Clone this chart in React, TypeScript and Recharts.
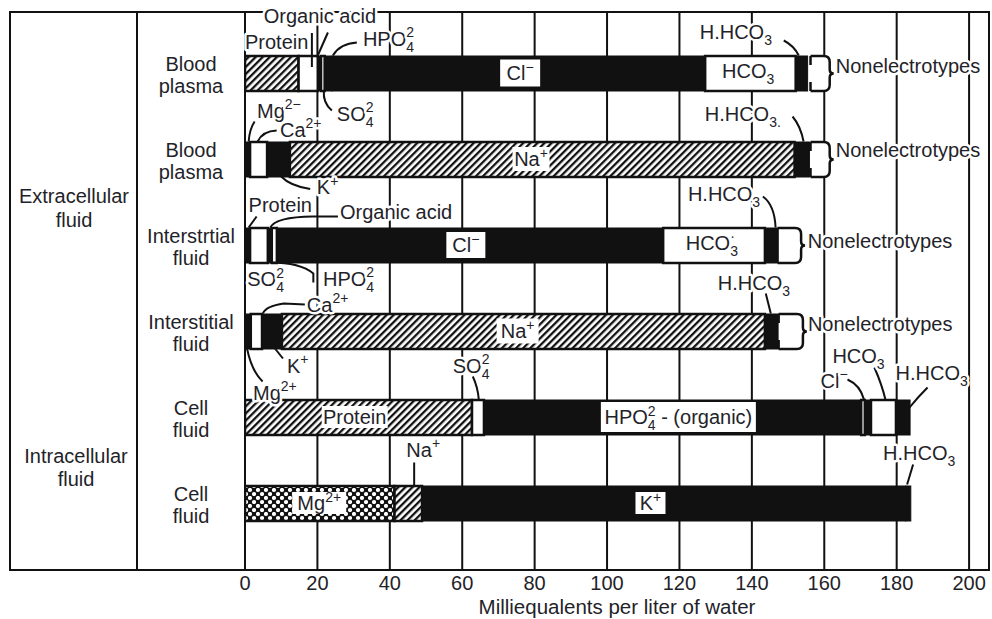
import React from "react";
import {
  BarChart,
  Bar,
  XAxis,
  YAxis,
  CartesianGrid,
  ReferenceDot,
  Customized,
  Label,
} from "recharts";

const FONT = "'Liberation Sans', Arial, Helvetica, sans-serif";
const INK = "#111111";
const TEXT = "#1f2329";
const FS = 20;

// ---------- categories / labels ----------
const rowKeys = [
  "plasmaAnions",
  "plasmaCations",
  "interAnions",
  "interCations",
  "cellAnions",
  "cellCations",
];
const rowLabels: string[][] = [
  ["Blood", "plasma"],
  ["Blood", "plasma"],
  ["Interstrtial", "fluid"],
  ["Interstitial", "fluid"],
  ["Cell", "fluid"],
  ["Cell", "fluid"],
];
const groupLabels: string[][] = [
  ["Extracellular", "fluid"],
  ["Intracellular", "fluid"],
];
const xTicks = [0, 20, 40, 60, 80, 100, 120, 140, 160, 180, 200];
const xTitle = "Milliequalents per liter of water";

// ---------- segment values (mEq per litre, left to right) ----------
const plasmaAnionIons = ["Protein", "Organic acid", "", "SO4", "HPO4", "Cl", "HCO3", "H.HCO3", "", "Nonelectrolytes"];
const plasmaAnionValues = [14.8, 5.3, 0.9, 1.0, 2.0, 103.1, 25.0, 3.3, 0.8, 5.3];

const plasmaCationIons = ["Mg", "Ca", "K", "Na", "H.HCO3", "", "Nonelectrolytes"];
const plasmaCationValues = [1.4, 4.7, 6.3, 139.4, 4.1, 0.3, 5.3];

const interAnionIons = ["Protein", "SO4", "", "Organic acid", "Cl", "HCO3", "H.HCO3", "Nonelectrolytes"];
const interAnionValues = [1.4, 4.9, 1.1, 1.4, 106.7, 28.1, 3.5, 6.5];

const interCationIons = ["Mg", "Ca", "K", "Na", "H.HCO3", "Nonelectrolytes"];
const interCationValues = [1.6, 3.1, 5.5, 133.4, 3.8, 6.7];

const cellAnionIons = ["Protein", "SO4", "HPO4", "Cl", "", "HCO3", "H.HCO3"];
const cellAnionValues = [62.7, 3.3, 104.2, 1.0, 1.7, 6.9, 3.9];

const cellCationIons = ["Mg", "Na", "K", "H.HCO3"];
const cellCationValues = [41.3, 7.6, 133.6, 1.4];

// ---------- segment styles (kept apart from the values) ----------
const plasmaAnionFills = ["hatch", "white", "black", "white", "black", "black", "white", "black", "none", "bracket"];
const plasmaCationFills = ["black", "white", "black", "hatch", "black", "none", "bracket"];
const interAnionFills = ["black", "white", "black", "white", "black", "white", "black", "bracketSolid"];
const interCationFills = ["black", "white", "black", "hatch", "black", "bracket"];
const cellAnionFills = ["hatch", "white", "black", "white", "black", "white", "black"];
const cellCationFills = ["check", "hatch", "black", "black"];

const rowIons = [plasmaAnionIons, plasmaCationIons, interAnionIons, interCationIons, cellAnionIons, cellCationIons];
const rowValues = [plasmaAnionValues, plasmaCationValues, interAnionValues, interCationValues, cellAnionValues, cellCationValues];
const rowFills = [plasmaAnionFills, plasmaCationFills, interAnionFills, interCationFills, cellAnionFills, cellCationFills];

const SEG_COUNT = Math.max(...rowValues.map((v) => v.length));
const segKeys = Array.from({ length: SEG_COUNT }, (_, j) => `s${j}`);
const chartData = rowKeys.map((key, i) => {
  const o: any = { key };
  segKeys.forEach((s, j) => {
    o[s] = rowValues[i][j] ?? 0;
    o[`ion${j}`] = rowIons[i][j] ?? "";
  });
  return o;
});

// ---------- annotations ----------
type Part = string | { sub?: string; sup?: string };
interface Note {
  row: number;
  at: number;
  parts: Part[];
  tx?: number;
  ty?: number;
  anchor?: "start" | "middle" | "end";
  path?: string[];
  box?: [number, number];
}

const notes: Note[] = [
  // blood plasma (anions)
  { row: 0, at: 0, parts: ["Protein"], tx: 0, ty: -24.5 },
  { row: 0, at: 18.2, parts: ["Organic acid"], tx: 9, ty: -50.5, anchor: "middle", path: ["M1 -40 L1 -6", "M17 -40.5 L6 -15.5"] },
  { row: 0, at: 24, parts: ["HPO", { sub: "4", sup: "2" }], tx: 31, ty: -27.5, path: ["M25 -30.5 Q8 -29.5 1 -17.5"] },
  { row: 0, at: 21.5, parts: ["SO", { sub: "4", sup: "2" }], tx: 14, ty: 47.5, path: ["M9 37.5 Q0 30 1 17.5"] },
  { row: 0, at: 76, parts: ["Cl", { sup: "−" }], box: [40, 27] },
  { row: 0, at: 139, parts: ["HCO", { sub: "3" }], tx: 0, ty: 4.5, anchor: "middle" },
  { row: 0, at: 154, parts: ["H.HCO", { sub: "3" }], tx: -102.8, ty: -34.5, path: ["M-18.8 -32.5 Q-8.8 -27.5 -3.8 -17.5"] },
  { row: 0, at: 161.5, parts: ["Nonelectrotypes"], tx: 6, ty: -0.5 },
  // blood plasma (cations)
  { row: 1, at: 1, parts: ["Mg", { sup: "2−" }], tx: 8.4, ty: -41.5, path: ["M6 -37.5 Q1 -30 0 -17.5"] },
  { row: 1, at: 3.5, parts: ["Ca", { sup: "2+" }], tx: 22.3, ty: -22.5, path: ["M19 -28.5 Q5 -28 0 -17.5"] },
  { row: 1, at: 10, parts: ["K", { sup: "+" }], tx: 35.6, ty: 35, path: ["M0 17.5 Q9 27 29 30"] },
  { row: 1, at: 79, parts: ["Na", { sup: "+" }], box: [37, 24] },
  { row: 1, at: 154, parts: ["H.HCO", { sub: "3." }], tx: -97.8, ty: -38, path: ["M-10 -42.5 Q-2 -33 1 -17.5"] },
  { row: 1, at: 161.5, parts: ["Nonelectrotypes"], tx: 6, ty: -2.5 },
  // interstitial (anions)
  { row: 2, at: 1, parts: ["Protein"], tx: 0, ty: -33.5, path: ["M8 -28.5 L0 -17.5"] },
  { row: 2, at: 7, parts: ["Organic acid"], tx: 69.6, ty: -26.5, path: ["M67.6 -28.5 L42.6 -28.5 Q5 -28 0 -17.5"] },
  { row: 2, at: 2, parts: ["SO", { sub: "4", sup: "2" }], tx: -5, ty: 41 },
  { row: 2, at: 7, parts: ["HPO", { sub: "4", sup: "2" }], tx: 52.6, ty: 40.5, path: ["M0 17.5 Q30 17.5 43 28.5 L43 37.5"] },
  { row: 2, at: 61, parts: ["Cl", { sup: "−" }], box: [39, 26] },
  { row: 2, at: 129.5, parts: ["HCO", { sub: "3", sup: "·" }], tx: -2, ty: 4.5, anchor: "middle" },
  { row: 2, at: 146, parts: ["H.HCO", { sub: "3" }], tx: -85.7, ty: -44.5, path: ["M-10.7 -48.5 Q1 -40 2 -17.5"] },
  { row: 2, at: 153.6, parts: ["Nonelectrotypes"], tx: 6.7, ty: 3 },
  // interstitial (cations)
  { row: 3, at: 3, parts: ["Ca", { sup: "2+" }], tx: 51, ty: -19.5, path: ["M49 -26.5 L28 -27.5 Q10 -25 7 -17.5"] },
  { row: 3, at: 8, parts: ["K", { sup: "+" }], tx: 13, ty: 41.5, path: ["M9 27.5 L1 17.5"] },
  { row: 3, at: 1, parts: ["Mg", { sup: "2+" }], tx: 4.4, ty: 68.5, path: ["M-1.6 17.5 Q3 40 14 50.5"] },
  { row: 3, at: 75.3, parts: ["Na", { sup: "+" }], box: [42, 25] },
  { row: 3, at: 145.5, parts: ["H.HCO", { sub: "3" }], tx: -54, ty: -41.5, path: ["M-6 -37.5 L-1 -17.5"] },
  { row: 3, at: 154.1, parts: ["Nonelectrotypes"], tx: 5, ty: 0 },
  // cell fluid (anions)
  { row: 4, at: 64.3, parts: ["SO", { sub: "4", sup: "2" }], tx: -25, ty: -44.5, path: ["M-5 -40.5 Q0 -30 1 -17.5"] },
  { row: 4, at: 30.3, parts: ["Protein"], box: [66, 22] },
  { row: 4, at: 119.7, parts: ["HPO", { sub: "4", sup: "2" }, " - (organic)"], box: [155, 30] },
  { row: 4, at: 170.7, parts: ["Cl", { sup: "−" }], tx: -42.5, ty: -29.5, path: ["M-15.5 -37.5 Q-3 -32 1 -17.5"] },
  { row: 4, at: 176.5, parts: ["HCO", { sub: "3" }], tx: -51.6, ty: -54, path: ["M-9.6 -49.5 Q-2 -32 1.4 -17.5"] },
  { row: 4, at: 183, parts: ["H.HCO", { sub: "3" }], tx: -12, ty: -37.5, path: ["M20 -29.5 Q10 -19.5 2 -9.5"] },
  // cell fluid (cations)
  { row: 5, at: 47, parts: ["Na", { sup: "+" }], tx: -8.8, ty: -46.5, path: ["M-1 -40.5 L-1 -17.5"] },
  { row: 5, at: 20.5, parts: ["Mg", { sup: "2+" }], box: [54, 22] },
  { row: 5, at: 112, parts: ["K", { sup: "+" }], box: [30, 22] },
  { row: 5, at: 181.5, parts: ["H.HCO", { sub: "3" }], tx: -19, ty: -43.5, path: ["M11 -38.5 L5 -18.5"] },
];

// ---------- rendering helpers ----------
function Chem({ x, y, parts, anchor = "start", size = FS, halo = false }: any) {
  const small = Math.round(size * 0.7);
  const kids: any[] = [];
  let shift = 0;
  (parts as Part[]).forEach((p, i) => {
    if (typeof p === "string") {
      kids.push(
        <tspan key={`t${i}`} dy={-shift} fontSize={size}>
          {p}
        </tspan>
      );
      shift = 0;
    } else {
      const subS = size * 0.32;
      const supS = -size * 0.42;
      if (p.sub !== undefined) {
        kids.push(
          <tspan key={`b${i}`} fontSize={small} dy={subS - shift}>
            {p.sub}
          </tspan>
        );
        shift = subS;
      }
      if (p.sup !== undefined) {
        const back = p.sub !== undefined ? -small * 0.556 * p.sub.length : 0;
        kids.push(
          <tspan key={`p${i}`} fontSize={small} dx={back} dy={supS - shift}>
            {p.sup}
          </tspan>
        );
        shift = supS;
      }
    }
  });
  const haloProps = halo
    ? { stroke: "#fff", strokeWidth: 5, paintOrder: "stroke", strokeLinejoin: "round" }
    : {};
  return (
    <text x={x} y={y} textAnchor={anchor} fontSize={size} fontFamily={FONT} fill={TEXT} {...(haloProps as any)}>
      {kids}
    </text>
  );
}

function NoteMark({ cx, cy, note }: { cx: number; cy: number; note: Note }) {
  if (cx == null || cy == null || isNaN(cx) || isNaN(cy)) return <g />;
  if (note.box) {
    const [w, h] = note.box;
    return (
      <g>
        <rect x={cx - w / 2} y={cy - h / 2} width={w} height={h} fill="#fff" />
        <Chem x={cx} y={cy + 7} parts={note.parts} anchor="middle" />
      </g>
    );
  }
  return (
    <g>
      {(note.path || []).map((d, k) => (
        <path key={k} d={d} transform={`translate(${cx} ${cy})`} stroke={INK} strokeWidth={2} fill="none" />
      ))}
      <Chem
        x={cx + (note.tx ?? 0)}
        y={cy + (note.ty ?? 0)}
        parts={note.parts}
        anchor={note.anchor ?? "start"}
        halo
      />
    </g>
  );
}

function Bracket({ x, y, w, h, dashed }: any) {
  const r = x + w;
  const m = y + h / 2;
  return (
    <g>
      <rect x={x} y={y} width={w} height={h} fill="#fff" />
      <path
        d={`M${x} ${y} V${y + h}`}
        stroke={INK}
        strokeWidth={2.5}
        strokeDasharray={dashed ? "9 17 9" : undefined}
        fill="none"
      />
      <path
        d={`M${x} ${y} H${r - 6} Q${r} ${y} ${r} ${y + 6} V${m - 4} Q${r} ${m} ${r + 4} ${m} Q${r} ${m} ${r} ${m + 4} V${y + h - 6} Q${r} ${y + h} ${r - 6} ${y + h} H${x}`}
        stroke={INK}
        strokeWidth={2.5}
        fill="none"
      />
    </g>
  );
}

function rowIndexOf(props: any): number {
  const k = props?.payload?.key;
  if (k !== undefined) return rowKeys.indexOf(k);
  return typeof props.index === "number" ? props.index : -1;
}

const makeSegmentShape = (j: number) => (props: any) => {
  const { x, y, width, height } = props;
  const r = rowIndexOf(props);
  const kind = rowFills[r]?.[j];
  if (!kind || kind === "none" || !(width > 0)) return <g />;
  if (kind === "bracket" || kind === "bracketSolid") {
    return <Bracket x={x} y={y} w={width} h={height} dashed={kind === "bracket"} />;
  }
  const fill =
    kind === "black" ? INK : kind === "white" ? "#fff" : kind === "hatch" ? "url(#hatch)" : "url(#check)";
  return (
    <rect
      x={x}
      y={y}
      width={width}
      height={height}
      fill={fill}
      stroke={INK}
      strokeWidth={kind === "black" ? 1 : 2.5}
    />
  );
};

const RowTick = (props: any) => {
  const { x, y, payload } = props;
  const i = rowKeys.indexOf(payload?.value);
  if (i < 0) return <g />;
  const [a, b] = rowLabels[i];
  const cx = x - 54;
  return (
    <text x={cx} y={y} textAnchor="middle" fontSize={FS} fontFamily={FONT} fill={TEXT}>
      <tspan x={cx} dy={-2.5}>
        {a}
      </tspan>
      <tspan x={cx} dy={22.5}>
        {b}
      </tspan>
    </text>
  );
};

const Frame = () => (
  <g>
    <defs>
      <pattern id="hatch" patternUnits="userSpaceOnUse" width="5" height="5" patternTransform="rotate(45)">
        <rect width="5" height="5" fill="#fff" />
        <rect width="2.3" height="5" fill={INK} />
      </pattern>
      <pattern id="check" patternUnits="userSpaceOnUse" width="8" height="8">
        <rect width="8" height="8" fill={INK} />
        <circle cx="2" cy="2" r="2.1" fill="#fff" />
        <circle cx="6" cy="6" r="2.1" fill="#fff" />
      </pattern>
    </defs>
    <rect x={10} y={12} width={979} height={558} fill="none" stroke={INK} strokeWidth={2} />
    <line x1={137} y1={12} x2={137} y2={570} stroke={INK} strokeWidth={2} />
    <line x1={245} y1={12} x2={245} y2={570} stroke={INK} strokeWidth={2} />
    <text x={74} y={203} textAnchor="middle" fontSize={FS} fontFamily={FONT} fill={TEXT}>
      <tspan x={74}>{groupLabels[0][0]}</tspan>
      <tspan x={74} dy={24}>
        {groupLabels[0][1]}
      </tspan>
    </text>
    <text x={76} y={463} textAnchor="middle" fontSize={FS} fontFamily={FONT} fill={TEXT}>
      <tspan x={76}>{groupLabels[1][0]}</tspan>
      <tspan x={76} dy={23}>
        {groupLabels[1][1]}
      </tspan>
    </text>
  </g>
);

export default function App() {
  return (
    <div style={{ position: "absolute", left: 0, top: 0, width: 992, height: 619, background: "#fff" }}>
      <BarChart
        layout="vertical"
        width={992}
        height={619}
        data={chartData}
        margin={{ top: 12, right: 3, bottom: 0, left: 137 }}
        barSize={35}
      >
        <Customized component={Frame} />
        <CartesianGrid horizontal={false} vertical stroke={INK} strokeWidth={2} />
        <XAxis
          type="number"
          domain={[0, 205.5]}
          ticks={xTicks}
          interval={0}
          allowDataOverflow
          tickLine={false}
          tickSize={0}
          tickMargin={6}
          axisLine={{ stroke: INK, strokeWidth: 2 }}
          tick={{ fontSize: FS, fill: TEXT, fontFamily: FONT }}
          height={49}
        >
          <Label
            value={xTitle}
            position="insideBottom"
            offset={5}
            style={{ fontSize: 20.5, fill: TEXT, fontFamily: FONT }}
          />
        </XAxis>
        <YAxis
          type="category"
          dataKey="key"
          width={108}
          interval={0}
          tickLine={false}
          axisLine={false}
          tickSize={0}
          tickMargin={0}
          padding={{ top: 18, bottom: 24 }}
          tick={(p: any) => <RowTick {...p} />}
        />
        {segKeys.map((s, j) => (
          <Bar key={s} dataKey={s} stackId="ions" isAnimationActive={false} shape={makeSegmentShape(j)} />
        ))}
        {notes.map((n, i) => (
          <ReferenceDot
            key={`n${i}`}
            x={n.at}
            y={rowKeys[n.row]}
            r={0}
            ifOverflow="visible"
            shape={(p: any) => <NoteMark cx={p.cx} cy={p.cy} note={n} />}
          />
        ))}
      </BarChart>
    </div>
  );
}
